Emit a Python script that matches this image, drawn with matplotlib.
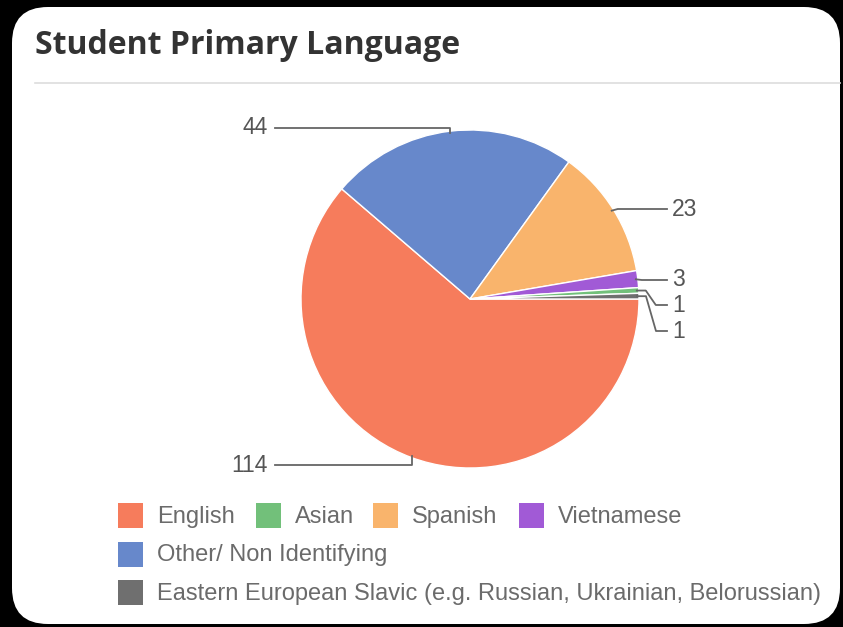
import numpy as np
import matplotlib
matplotlib.use("Agg")
import matplotlib.pyplot as plt
import matplotlib.patches as patches

W, H = 843, 627

# slice data, drawn clockwise from 3 o'clock
languages = ["English", "Other/ Non Identifying", "Spanish", "Vietnamese",
             "Asian", "Eastern European Slavic (e.g. Russian, Ukrainian, Belorussian)"]
counts = [114, 44, 23, 3, 1, 1]
slice_colors = ["#F67C5C", "#6788CB", "#F9B46C", "#A15AD6", "#72C07A", "#6F6F6F"]

# legend rows as they are listed under the chart
legend_rows = [["English", "Asian", "Spanish", "Vietnamese"],
               ["Other/ Non Identifying"],
               ["Eastern European Slavic (e.g. Russian, Ukrainian, Belorussian)"]]


def py(y):
    # pixel rows are counted from the top
    return H - y


fig = plt.figure(figsize=(W / 100, H / 100), dpi=100)
fig.patch.set_facecolor("black")
ax = fig.add_axes([0, 0, 1, 1])
ax.set_xlim(0, W)
ax.set_ylim(0, H)
ax.set_aspect("equal")
ax.axis("off")

# white card
card = patches.FancyBboxPatch((12 + 36, py(624) + 36), 828 - 72, 617 - 72,
                              boxstyle="round,pad=36", facecolor="white",
                              edgecolor="none", zorder=0)
ax.add_patch(card)

ax.text(35, py(46), "Student Primary Language", fontsize=23, fontweight="bold",
        family="Open Sans", color="#333333", va="center", ha="left")
ax.plot([35, 840], [py(83), py(83)], color="#dddddd", lw=1.2, zorder=1)

cx, cy, r = 470, py(299), 169
wedges, _ = ax.pie(counts, colors=slice_colors, startangle=0, counterclock=False,
                   center=(cx, cy), radius=r, frame=True,
                   wedgeprops=dict(edgecolor="white", linewidth=1))
ax.set_xlim(0, W)
ax.set_ylim(0, H)
ax.axis("off")

# label placement: (label y, elbow kind)
label_layout = [(465, "bottom"), (128, "top"), (209, "right"),
                (280, "right"), (305, "right"), (331, "right")]

line_col = "#666666"
txt_col = "#555555"
num_size = 16.5
for w, val, (ly, kind) in zip(wedges, counts, label_layout):
    mid = np.deg2rad((w.theta1 + w.theta2) / 2)
    ex = cx + (r - 2) * np.cos(mid)
    ey = cy + (r - 2) * np.sin(mid)
    if kind in ("top", "bottom"):
        xs = [ex, ex, 275]
        ys = [ey, py(ly), py(ly)]
        ax.text(268, py(ly), str(val), ha="right", va="center", fontsize=num_size,
                family="Liberation Sans", color=txt_col)
    else:
        if abs(py(ly) - ey) < 6:
            xs = [ex, ex + 6, 667]
            ys = [ey, py(ly), py(ly)]
        else:
            bx = ex + 9
            xs = [ex, bx, bx + 10, 667]
            ys = [ey, ey, py(ly), py(ly)]
        ax.text(672, py(ly), str(val), ha="left", va="center", fontsize=num_size,
                family="Liberation Sans", color=txt_col)
    ax.plot(xs, ys, color=line_col, lw=1.3, zorder=3)

# legend
color_of = dict(zip(languages, slice_colors))
row_y = [515.5, 554, 592.5]
row_x = [[118, 256, 373, 519], [118], [118]]
sq = 25
for names, y, xs in zip(legend_rows, row_y, row_x):
    for name, x in zip(names, xs):
        ax.add_patch(patches.Rectangle((x, py(y) - sq / 2), sq, sq,
                                       facecolor=color_of[name], edgecolor="none"))
        ax.text(x + 39, py(y + 7.5), name, ha="left", va="baseline", fontsize=17,
                family="Liberation Sans", color="#6b6b6b")

fig.savefig("out.png", dpi=100, facecolor=fig.get_facecolor())
